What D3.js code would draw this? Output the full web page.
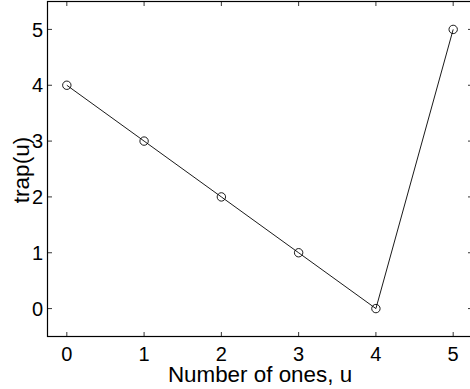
<!DOCTYPE html>
<html>
<head>
<meta charset="utf-8">
<script src="https://cdn.jsdelivr.net/npm/d3@7"></script>
<style>
  body { margin: 0; background: #fff; }
  svg { display: block; }
  text { font-family: "Liberation Sans", Arial, sans-serif; fill: #000; }
</style>
</head>
<body>
<div id="chart"></div>
<script>
const ones = [0, 1, 2, 3, 4, 5];
const trapValues = [4, 3, 2, 1, 0, 5];
const xTicks = [0, 1, 2, 3, 4, 5];
const yTicks = [0, 1, 2, 3, 4, 5];

const width = 470, height = 389;
const margin = { left: 47.5, top: 1.5, right: -2.5, bottom: 52.5 };

const svg = d3.select("#chart").append("svg")
    .attr("width", width)
    .attr("height", height);

const x = d3.scaleLinear().domain([-0.25, 5.25]).range([margin.left, width - margin.right]);
const y = d3.scaleLinear().domain([-0.5, 5.5]).range([height - margin.bottom, margin.top]);

const x0 = x.range()[0], x1 = x.range()[1];
const y0 = y.range()[0], y1 = y.range()[1];

// box
svg.append("rect")
    .attr("x", x0).attr("y", y1)
    .attr("width", x1 - x0).attr("height", y0 - y1)
    .attr("fill", "none").attr("stroke", "#000").attr("stroke-width", 1.2);

const tickLen = 4.5;
const ticks = svg.append("g").attr("stroke", "#000").attr("stroke-width", 0.8);

// ticks on all four sides, pointing in
xTicks.forEach(t => {
    ticks.append("line").attr("x1", x(t)).attr("x2", x(t)).attr("y1", y0).attr("y2", y0 - tickLen);
    ticks.append("line").attr("x1", x(t)).attr("x2", x(t)).attr("y1", y1).attr("y2", y1 + tickLen);
});
yTicks.forEach(t => {
    ticks.append("line").attr("x1", x0).attr("x2", x0 + tickLen).attr("y1", y(t)).attr("y2", y(t));
    ticks.append("line").attr("x1", x1).attr("x2", x1 - tickLen).attr("y1", y(t)).attr("y2", y(t));
});

svg.append("g").selectAll("text")
    .data(xTicks)
    .join("text")
    .attr("x", d => x(d))
    .attr("y", y0 + 24)
    .attr("text-anchor", "middle")
    .attr("font-size", 20)
    .text(d => d);

svg.append("g").selectAll("text")
    .data(yTicks)
    .join("text")
    .attr("x", x0 - 4.5)
    .attr("y", d => y(d))
    .attr("dy", "0.36em")
    .attr("text-anchor", "end")
    .attr("font-size", 20)
    .text(d => d);

svg.append("text")
    .attr("x", 260)
    .attr("y", 381.7)
    .attr("text-anchor", "middle")
    .attr("font-size", 22.4)
    .text("Number of ones, u");

svg.append("text")
    .attr("transform", "translate(28.5, 170) rotate(-90)")
    .attr("text-anchor", "middle")
    .attr("font-size", 22.6)
    .text("trap(u)");

const pts = ones.map((u, i) => [u, trapValues[i]]);

svg.append("path")
    .datum(pts)
    .attr("fill", "none")
    .attr("stroke", "#000")
    .attr("stroke-width", 0.9)
    .attr("d", d3.line().x(d => x(d[0])).y(d => y(d[1])));

svg.append("g").selectAll("circle")
    .data(pts)
    .join("circle")
    .attr("cx", d => x(d[0]))
    .attr("cy", d => y(d[1]))
    .attr("r", 4.2)
    .attr("fill", "none")
    .attr("stroke", "#000")
    .attr("stroke-width", 0.9);
</script>
</body>
</html>
